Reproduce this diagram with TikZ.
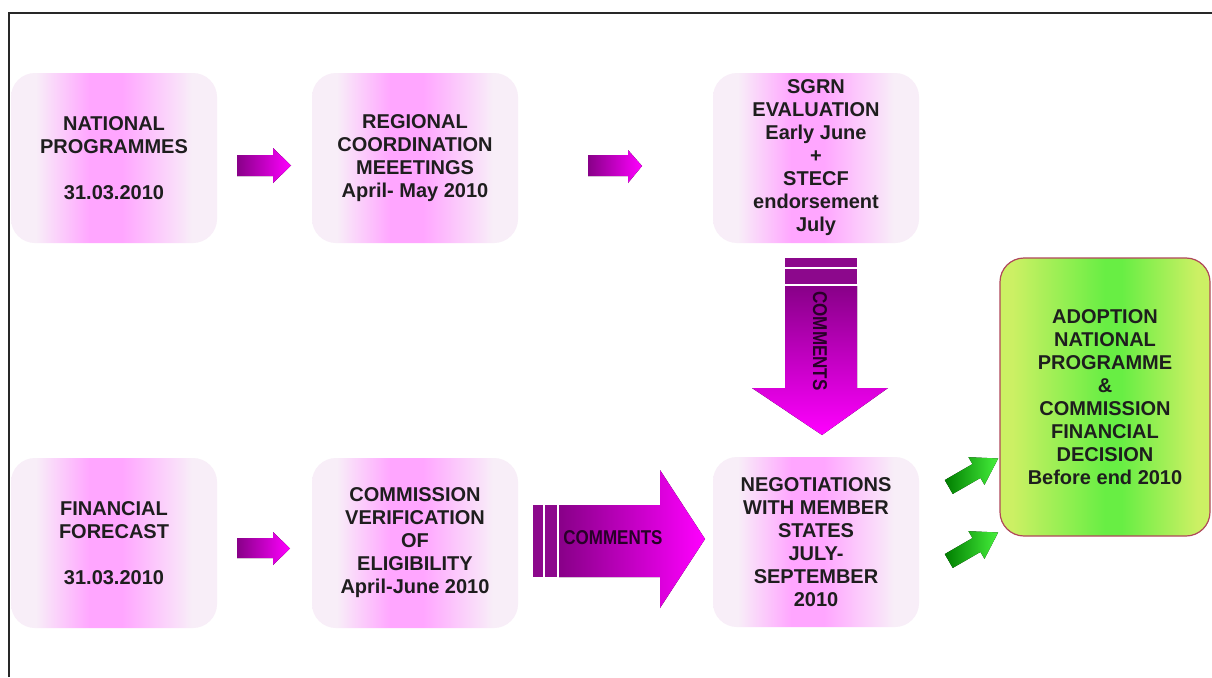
\documentclass[tikz,border=0pt]{standalone}
\usepackage{fontspec}
\setmainfont{Liberation Sans}
\usetikzlibrary{calc}
\definecolor{pe}{RGB}{248,238,248}
\definecolor{pm}{RGB}{255,166,255}
\definecolor{ge}{RGB}{204,240,100}
\definecolor{gm}{RGB}{104,238,68}
\definecolor{gborder}{RGB}{176,72,90}
\definecolor{pdark}{RGB}{136,0,136}
\definecolor{pmid}{RGB}{215,0,215}
\definecolor{pbright}{RGB}{255,0,255}
\definecolor{pstripe}{RGB}{140,8,140}
\definecolor{gdark}{RGB}{0,125,0}
\definecolor{gbright}{RGB}{70,240,60}
\definecolor{txt}{RGB}{30,30,30}
\definecolor{ctxt}{RGB}{40,0,40}
\definecolor{framecol}{RGB}{40,40,40}
\pgfdeclarehorizontalshading{pinkbox}{100bp}{color(0bp)=(pe); color(25bp)=(pe); color(31bp)=(pe); color(44bp)=(pm); color(52bp)=(pm); color(69bp)=(pe); color(75bp)=(pe); color(100bp)=(pe)}
\pgfdeclarehorizontalshading{greenbox}{100bp}{color(0bp)=(ge); color(25bp)=(ge); color(28bp)=(ge); color(50bp)=(gm); color(54bp)=(gm); color(72bp)=(ge); color(75bp)=(ge); color(100bp)=(ge)}
\begin{document}
\begin{tikzpicture}[x=1pt,y=-1pt,
  box/.style={rounded corners=24pt, minimum width=206pt, minimum height=170pt,
    align=center, text=txt, inner sep=0pt,
    font=\fontsize{20}{23}\selectfont\bfseries},
  pbox/.style={box, shade, shading=pinkbox},
  gbox/.style={box, shade, shading=greenbox, draw=gborder, line width=1.2pt,
    minimum width=210pt, minimum height=278pt},
  parrow/.style={left color=pdark, right color=pbright},
  varrow/.style={top color=pdark, middle color=pmid, bottom color=pbright},
  garrow/.style={left color=gdark, right color=gbright},
  stripe/.style={fill=pstripe},
  ctext/.style={text=ctxt, inner sep=0pt, font=\fontsize{20}{20}\selectfont\bfseries}
]
\useasboundingbox (0,0) rectangle (1212,677);
\fill[white] (0,0) rectangle (1212,677);
\draw[line width=1.5pt, framecol] (9,677) -- (9,13) -- (1212,13);

% boxes
\node[pbox] (b1) at (114,158) {NATIONAL\\PROGRAMMES\\[23pt]31.03.2010};
\node[pbox] (b2) at (415,158) {REGIONAL\\COORDINATION\\MEEETINGS\\April- May 2010};
\node[pbox] (b3) at (816,158) {SGRN\\EVALUATION\\Early June\\+\\STECF\\endorsement\\July};
\node[pbox] (b4) at (114,543) {FINANCIAL\\FORECAST\\[23pt]31.03.2010};
\node[pbox] (b5) at (415,543) {COMMISSION\\VERIFICATION\\OF\\ELIGIBILITY\\April-June 2010};
\node[pbox] (b6) at (816,542) {NEGOTIATIONS\\WITH MEMBER\\STATES\\JULY-\\SEPTEMBER\\2010};
\node[gbox] (g) at (1105,397) {ADOPTION\\NATIONAL\\PROGRAMME\\\&\\COMMISSION\\FINANCIAL\\DECISION\\Before end 2010};

% small arrows
\fill[parrow] (237,155) -- (273,155) -- (273,148) -- (291,165.5) -- (273,183) -- (273,176) -- (237,176) -- cycle;
\fill[parrow] (588,155) -- (628,155) -- (628,150) -- (642,166) -- (628,183) -- (628,176) -- (588,176) -- cycle;
\fill[parrow] (237,538) -- (273,538) -- (273,532) -- (290,548.5) -- (273,565) -- (273,558) -- (237,558) -- cycle;

% big down arrow
\fill[stripe] (785,258) rectangle (857,267);
\fill[stripe] (785,269) rectangle (857,284);
\fill[varrow] (785,286) -- (857,286) -- (857,388) -- (888,388) -- (822,435) -- (752,388) -- (785,388) -- cycle;
\node[ctext, rotate=-90, xscale=0.85] (c1) at (820,341) {COMMENTS};

% big right arrow
\fill[stripe] (533,505) rectangle (543,577);
\fill[stripe] (545,505) rectangle (557,577);
\fill[parrow] (559,505) -- (660,505) -- (660,470) -- (705,539) -- (660,608) -- (660,577) -- (559,577) -- cycle;
\node[ctext, xscale=0.85] (c2) at (613,538) {COMMENTS};

% green arrows
\begin{scope}[shift={(973,473)}, rotate=30]
\fill[garrow] (-28,-8) -- (4,-8) -- (4,-16) -- (29,0) -- (4,16) -- (4,8) -- (-28,8) -- cycle;
\end{scope}
\begin{scope}[shift={(973,547)}, rotate=30]
\fill[garrow] (-28,-8) -- (4,-8) -- (4,-16) -- (29,0) -- (4,16) -- (4,8) -- (-28,8) -- cycle;
\end{scope}
\end{tikzpicture}
\end{document}
